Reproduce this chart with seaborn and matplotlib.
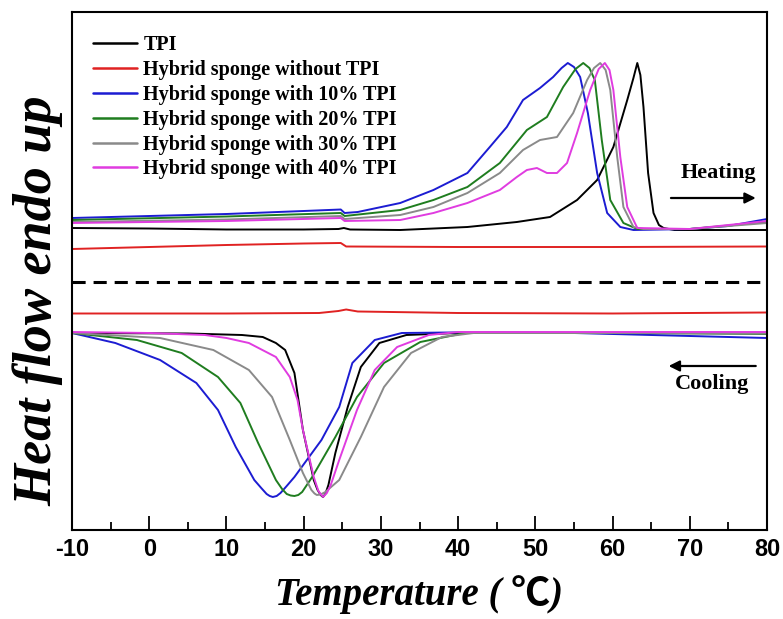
"""
DSC curves (heating / cooling) for TPI and hybrid sponges.
Values read off the published figure; heat flow in arbitrary units.
"""

import matplotlib
matplotlib.use("Agg")
import matplotlib.pyplot as plt
from matplotlib.ticker import MultipleLocator
import seaborn as sns

# ---- data (temperature in degC, heat flow in a.u.) ----
samples = ["TPI", "Hybrid sponge without TPI", "Hybrid sponge with 10% TPI",
           "Hybrid sponge with 20% TPI", "Hybrid sponge with 30% TPI",
           "Hybrid sponge with 40% TPI"]
colors = ["#000000", "#e02222", "#1c1cd2", "#1f7d1f", "#8a8a8a", "#e03ce0"]

# heating scans
tpi_heat_t = [-10, 0, 10, 20, 24.5, 25.2, 26, 32.5, 41.2, 47.6, 51.9, 55.4, 58.0, 60.1,
              61.9, 62.7, 63.2, 63.6, 64.0, 64.6, 65.3, 66.0, 66.6, 68, 80]
tpi_heat_y = [30.2, 30.15, 30.05, 30.05, 30.1, 30.2, 30.05, 30.0, 30.3, 30.8, 31.3, 33.0, 35.0,
              38.3, 43.0, 45.2, 46.7, 45.5, 42.3, 35.7, 31.7, 30.5, 30.2, 30.0, 30.0]

red_heat_t = [-10, 0, 10, 20, 24.8, 25.5, 40, 60, 80]
red_heat_y = [28.1, 28.3, 28.5, 28.65, 28.7, 28.35, 28.3, 28.3, 28.35]

s10_heat_t = [-10, 0, 10, 20, 24.8, 25.3, 27, 32.5, 36.8, 41.2, 44.1, 46.3, 48.4, 50.6, 52.3,
              53.4, 54.2, 55.0, 55.8, 56.8, 58.0, 59.3, 61.0, 62.7, 70, 75, 80]
s10_heat_y = [31.2, 31.4, 31.6, 31.9, 32.05, 31.7, 31.8, 32.7, 34.0, 35.7, 38.3, 40.3, 43.0, 44.2,
              45.3, 46.2, 46.7, 46.3, 45.3, 41.7, 35.7, 31.7, 30.3, 30.0, 30.1, 30.4, 31.1]

s20_heat_t = [-10, 10, 24.8, 25.3, 32.5, 36.8, 41.2, 45.4, 48.9, 51.5, 53.6, 55.2, 56.2, 57.0,
              57.7, 58.6, 59.7, 61.4, 63.2, 70, 80]
s20_heat_y = [31.0, 31.35, 31.7, 31.4, 32.0, 33.0, 34.3, 36.7, 40.0, 41.3, 44.3, 46.1, 46.7, 46.2,
              45.0, 39.0, 33.0, 30.7, 30.1, 30.1, 30.8]

s30_heat_t = [-10, 10, 24.8, 25.3, 32.5, 36.8, 41.2, 45.4, 48.4, 50.6, 52.8, 54.9, 56.7, 57.6,
              58.4, 59.1, 59.7, 60.6, 61.4, 62.7, 64, 70, 80]
s30_heat_y = [30.8, 31.05, 31.4, 31.1, 31.5, 32.3, 33.7, 35.7, 38.0, 39.0, 39.3, 41.7, 45.0, 46.2,
              46.7, 46.0, 44.0, 37.3, 32.3, 30.3, 30.1, 30.1, 30.7]

s40_heat_t = [-10, 10, 24.8, 25.3, 32.5, 36.8, 41.2, 45.4, 47.6, 48.9, 50.2, 51.5, 52.8, 54.1,
              55.4, 57.1, 58.2, 59.0, 59.6, 60.1, 61.0, 61.9, 63.2, 70, 80]
s40_heat_y = [30.7, 30.9, 31.2, 30.9, 31.0, 31.7, 32.7, 34.0, 35.3, 36.0, 36.2, 35.7, 35.7, 36.7,
              39.7, 44.0, 46.1, 46.7, 46.0, 44.0, 37.3, 32.3, 30.2, 30.1, 30.9]

# cooling scans
tpi_cool_t = [-10, 5, 12, 14.7, 16.4, 17.6, 18.8, 19.9, 21.3, 21.8, 22.2, 22.5, 22.8, 23.2,
              24.1, 25.7, 27.4, 29.8, 33.3, 40, 60, 80]
tpi_cool_y = [19.7, 19.65, 19.5, 19.3, 18.7, 18.0, 15.7, 10.0, 5.0, 4.0, 3.5, 3.3, 3.6, 4.5,
              7.7, 12.3, 16.3, 18.7, 19.5, 19.7, 19.7, 19.65]

red_cool_t = [-10, 10, 22, 24.5, 25.5, 27, 40, 60, 80]
red_cool_y = [21.65, 21.65, 21.7, 21.9, 22.05, 21.85, 21.7, 21.65, 21.75]

s10_cool_t = [-10, -4.4, 1.4, 6.1, 8.9, 11.2, 13.6, 14.5, 15.2, 15.6, 16.0, 16.5, 17.0, 17.8,
              18.8, 22.3, 24.6, 26.3, 29.2, 32.7, 45, 55, 65, 80]
s10_cool_y = [19.7, 18.7, 17.0, 14.7, 12.0, 8.3, 5.0, 4.2, 3.6, 3.4, 3.3, 3.4, 3.7, 4.4,
              5.3, 9.0, 12.3, 16.7, 19.0, 19.7, 19.8, 19.7, 19.5, 19.2]

s20_cool_t = [-10, -1.6, 4.2, 8.9, 11.8, 14.1, 16.4, 17.2, 17.8, 18.3, 18.8, 19.3, 19.8, 21.1,
              24.1, 26.9, 30.4, 35.1, 40.9, 60, 80]
s20_cool_y = [19.7, 19.0, 17.7, 15.3, 12.7, 8.7, 5.0, 4.1, 3.6, 3.45, 3.4, 3.5, 3.8, 5.3,
              9.3, 13.3, 16.7, 18.8, 19.7, 19.7, 19.65]

s30_cool_t = [-10, 1.4, 8.3, 12.9, 15.9, 18.2, 19.9, 21.0, 21.4, 21.7, 22.2, 22.8, 24.6, 27.4,
              30.4, 33.9, 37.9, 42, 60, 80]
s30_cool_y = [19.7, 19.2, 18.0, 16.0, 13.3, 9.0, 5.7, 4.0, 3.65, 3.5, 3.55, 3.8, 5.0, 9.3,
              14.3, 17.7, 19.3, 19.7, 19.7, 19.7]

s40_cool_t = [-10, 0, 7.2, 10, 12.9, 16.4, 18.2, 19.2, 19.9, 21.3, 21.9, 22.5, 23.0, 23.5,
              24.6, 26.9, 29.2, 32.1, 36.2, 40, 60, 80]
s40_cool_y = [19.8, 19.7, 19.5, 19.2, 18.7, 17.3, 15.3, 13.0, 10.0, 5.3, 3.9, 3.3, 3.7, 4.5,
              7.0, 12.0, 16.0, 18.3, 19.5, 19.8, 19.8, 19.8]

heating = [(tpi_heat_t, tpi_heat_y), (red_heat_t, red_heat_y), (s10_heat_t, s10_heat_y),
           (s20_heat_t, s20_heat_y), (s30_heat_t, s30_heat_y), (s40_heat_t, s40_heat_y)]
cooling = [(tpi_cool_t, tpi_cool_y), (red_cool_t, red_cool_y), (s10_cool_t, s10_cool_y),
           (s20_cool_t, s20_cool_y), (s30_cool_t, s30_cool_y), (s40_cool_t, s40_cool_y)]

separator_y = 24.8

sns.set_style("ticks")
plt.rcParams["font.family"] = ["Liberation Serif", "Noto Sans CJK SC", "DejaVu Sans"]
plt.rcParams["axes.unicode_minus"] = False
plt.rcParams["text.color"] = "black"
plt.rcParams["axes.labelcolor"] = "black"
plt.rcParams["xtick.color"] = "black"

fig = plt.figure(figsize=(7.83, 6.19), dpi=100)
ax = fig.add_axes([0.092, 0.1438, 0.8876, 0.8368])

for name, color, (ht, hy), (ct, cy) in zip(samples, colors, heating, cooling):
    sns.lineplot(x=ht, y=hy, ax=ax, color=color, lw=1.4, sort=False,
                 estimator=None, label=name)
    sns.lineplot(x=ct, y=cy, ax=ax, color=color, lw=1.4, sort=False,
                 estimator=None)

ax.axhline(separator_y, color="black", lw=2.2, dashes=(4.3, 2.6))

ax.set_xlim(-10, 80)
ax.set_ylim(0, 51.8)
ax.xaxis.set_major_locator(MultipleLocator(10))
ax.xaxis.set_minor_locator(MultipleLocator(5))
ax.set_yticks([])
ax.tick_params(axis="x", which="major", direction="in", length=10, width=1.3, pad=6,
               top=False, colors="black")
ax.tick_params(axis="x", which="minor", direction="in", length=5.5, width=1.3, top=False)
for lab in ax.get_xticklabels():
    lab.set_fontfamily("Liberation Sans")
    lab.set_fontweight("bold")
    lab.set_fontsize(17)
for sp in ax.spines.values():
    sp.set_visible(True)
    sp.set_linewidth(1.5)
    sp.set_color("black")

ax.set_xlabel("Temperature ( \u2103)", fontsize=28, fontweight="bold", style="italic",
              labelpad=10, color="black")
ax.set_ylabel("Heat flow endo up", fontsize=39, fontweight="bold", style="italic",
              color="black")
ax.yaxis.set_label_coords(-0.013, 0.442)
ax.yaxis.label.set_va("bottom")

leg = ax.legend(loc="upper left", bbox_to_anchor=(0.004, 0.99), frameon=False,
                handlelength=2.2, handletextpad=0.3, labelspacing=0.24,
                prop={"family": "Liberation Serif", "weight": "bold", "size": 14.5})
for h in leg.get_lines():
    h.set_linewidth(1.8)
for t in leg.get_texts():
    t.set_color("black")

# direction annotations
ax.text(73.7, 35.2, "Heating", ha="center", va="baseline", fontsize=16, fontweight="bold")
ax.annotate("", xy=(78.9, 33.2), xytext=(67.2, 33.2),
            arrowprops=dict(arrowstyle="-|>", color="black", lw=1.6, mutation_scale=16))
ax.text(72.9, 14.1, "Cooling", ha="center", va="baseline", fontsize=16, fontweight="bold")
ax.annotate("", xy=(66.9, 16.4), xytext=(78.9, 16.4),
            arrowprops=dict(arrowstyle="-|>", color="black", lw=1.6, mutation_scale=16))

fig.savefig("out.png", dpi=100)
